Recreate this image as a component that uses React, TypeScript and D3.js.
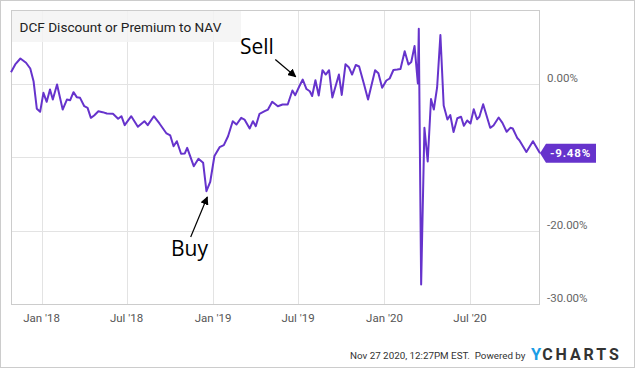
import React from "react";
import * as d3 from "d3";

const W = 635;
const H = 368;

const dates = [
  "2017-10-28","2017-11-06","2017-11-17","2017-11-29","2017-12-08","2017-12-15","2017-12-22","2017-12-29",
  "2018-01-05","2018-01-12","2018-01-19","2018-01-25","2018-02-03","2018-02-15","2018-02-24","2018-03-03",
  "2018-03-10","2018-03-17","2018-03-24","2018-04-02","2018-04-09","2018-04-16","2018-04-23","2018-05-02",
  "2018-05-11","2018-05-20","2018-06-02","2018-06-13","2018-06-20","2018-06-27","2018-07-11","2018-07-25",
  "2018-08-08","2018-08-15","2018-08-28","2018-09-09","2018-09-24","2018-10-02","2018-10-09","2018-10-16",
  "2018-10-25","2018-11-02","2018-11-07","2018-11-21","2018-12-01","2018-12-11","2018-12-18","2018-12-26",
  "2019-01-04","2019-01-15","2019-01-24","2019-02-02","2019-02-12","2019-02-20","2019-03-02","2019-03-09",
  "2019-03-20","2019-03-27","2019-04-02","2019-04-10","2019-04-21","2019-04-28","2019-05-07","2019-05-19",
  "2019-05-29","2019-06-09","2019-06-19","2019-06-25","2019-07-04","2019-07-11","2019-07-19","2019-07-26",
  "2019-07-31","2019-08-07","2019-08-14","2019-08-22","2019-08-29","2019-09-05","2019-09-12","2019-09-26",
  "2019-10-02","2019-10-10","2019-10-17","2019-10-24","2019-11-01","2019-11-08","2019-11-18","2019-11-27",
  "2019-12-12","2019-12-19","2019-12-27","2020-01-05","2020-01-12","2020-01-20","2020-01-28","2020-02-04",
  "2020-02-13","2020-02-21","2020-02-27","2020-03-05","2020-03-12","2020-03-14","2020-03-19","2020-03-26",
  "2020-04-02","2020-04-09","2020-04-15","2020-04-22","2020-04-29","2020-05-06","2020-05-14","2020-05-20",
  "2020-05-27","2020-06-04","2020-06-12","2020-06-18","2020-06-25","2020-07-02","2020-07-09","2020-07-16",
  "2020-07-21","2020-07-29","2020-08-13","2020-08-20","2020-08-31","2020-09-08","2020-09-17","2020-09-25",
  "2020-09-30","2020-10-10","2020-10-14","2020-10-29","2020-11-12","2020-11-27"
];

const values = [
  1.54, 2.59, 3.40, 2.82, 2.04, 0.31, -3.44, -3.85,
  -1.27, -2.49, -0.82, -2.18, -0.14, -3.54, -2.18, -2.27,
  -1.18, -1.86, -1.95, -3.09, -3.31, -4.67, -4.35, -3.77,
  -3.90, -4.08, -4.12, -4.80, -4.45, -5.67, -4.45, -5.89,
  -5.13, -5.67, -4.45, -5.44, -6.80, -7.07, -8.53, -7.85,
  -9.56, -9.52, -8.75, -11.25, -10.24, -10.79, -14.65, -13.40,
  -9.86, -8.67, -8.39, -7.17, -5.13, -5.58, -4.67, -4.90,
  -6.12, -5.13, -5.81, -4.12, -3.77, -3.54, -2.49, -3.09,
  -2.86, -2.86, -0.95, -1.59, -0.34, 0.54, -0.75, -1.05,
  -1.70, 0.45, -1.63, 1.81, 1.22, 1.81, -1.90, 1.22,
  -1.56, 2.63, 2.22, 1.22, 2.52, 2.31, 0.00, -2.18,
  1.81, 1.40, -0.59, 0.41, 0.68, 1.84, 1.90, 1.97,
  4.39, 2.59, 2.93, 5.10, 0.00, 7.44, -27.35, -6.03,
  -10.61, -2.11, -3.54, -0.54, 6.60, -2.99, -4.90, -4.29,
  -6.60, -4.73, -4.53, -5.76, -5.03, -5.44, -3.50, -4.86,
  -4.53, -2.82, -6.03, -5.71, -4.63, -5.35, -6.57, -6.03,
  -6.12, -7.46, -7.71, -9.32, -7.85, -9.48
];

const xTickDates = ["2018-01-01", "2018-07-01", "2019-01-01", "2019-07-01", "2020-01-01", "2020-07-01"];
const xTickLabels = ["Jan '18", "Jul '18", "Jan '19", "Jul '19", "Jan '20", "Jul '20"];
const yTicks = [0, -10, -20, -30];
// the -10.00% label sits under the last-value badge in the reference, so it is not drawn
const yTickLabels = ["0.00%", "", "-20.00%", "-30.00%"];

const title = "DCF Discount or Premium to NAV";
const lastLabel = "-9.48%";
const footerText = "Nov 27 2020, 12:27PM EST.\u00a0 Powered by";

const parse = d3.timeParse("%Y-%m-%d");

export default function App() {
  const data = dates.map((d, i) => ({ date: parse(d) as Date, value: values[i] }));
  const left = 11, right = 540, top = 10, bottom = 304;
  const x = d3.scaleTime()
    .domain(d3.extent(data, (d) => d.date) as [Date, Date])
    .range([left, right]);
  const y = d3.scaleLinear().domain([-30, 10]).range([bottom, top]);
  const line = d3.line<{ date: Date; value: number }>()
    .x((d) => x(d.date))
    .y((d) => y(d.value));
  const purple = "#6633cc";
  const last = data[data.length - 1];
  const ly = y(last.value);
  const lx = x(last.date);

  return (
    <svg width={W} height={H} style={{ position: "absolute", left: 0, top: 0, background: "#fff" }}
      fontFamily="Roboto, 'Noto Sans', sans-serif">
      <defs>
        <marker id="ah" viewBox="0 0 10 10" refX="9" refY="5" markerWidth="7" markerHeight="7" orient="auto-start-reverse">
          <path d="M0,0 L10,5 L0,10 z" fill="#000" />
        </marker>
      </defs>
      <rect x={0.5} y={0.5} width={W - 1} height={H - 1} fill="#fff" stroke="#cccccc" />
      {/* grid */}
      {yTicks.slice(0, 3).map((t) => (
        <line key={"gy" + t} x1={left} x2={right} y1={Math.round(y(t)) + 0.5} y2={Math.round(y(t)) + 0.5} stroke="#e3e3e3" />
      ))}
      {xTickDates.map((d) => {
        const xx = Math.round(x(parse(d) as Date)) + 0.5;
        return <line key={"gx" + d} x1={xx} x2={xx} y1={top} y2={bottom} stroke="#e3e3e3" />;
      })}
      {/* title box */}
      <rect x={left} y={top} width={230} height={32} fill="#f3f3f3" opacity={0.85} />
      <text x={19.5} y={31.5} fontSize={13.6} fill="#222">{title}</text>
      {/* frame */}
      <rect x={left + 0.5} y={top + 0.5} width={right - left - 1} height={bottom - top} fill="none" stroke="#cccccc" />
      {/* line */}
      <path d={line(data) || ""} fill="none" stroke={purple} strokeWidth={2} strokeLinejoin="round" />
      {/* x labels */}
      {xTickDates.map((d, i) => (
        <text key={"xl" + d} x={x(parse(d) as Date)} y={321.5} fontSize={11.5} fill="#555" textAnchor="middle">
          {xTickLabels[i]}
        </text>
      ))}
      {/* y labels */}
      {yTicks.map((t, i) => yTickLabels[i] ? (
        <text key={"yl" + t} x={547} y={y(t) - 2} fontSize={11.5} fill="#666">{yTickLabels[i]}</text>
      ) : null)}
      {/* last value badge */}
      <path d={`M${lx},${ly} L${lx + 6},${ly - 9.5} L${lx + 56},${ly - 9.5} L${lx + 56},${ly + 9.5} L${lx + 6},${ly + 9.5} Z`} fill={purple} />
      <text x={lx + 10} y={ly + 4} fontSize={11.5} fontWeight="bold" fill="#fff" letterSpacing={0.8}>{lastLabel}</text>
      {/* annotations */}
      <text x={240} y={53.5} fontSize={21} fontFamily="'Open Sans', sans-serif" fill="#000">Sell</text>
      <line x1={275.3} y1={59.5} x2={295.7} y2={76.7} stroke="#000" strokeWidth={1.2} markerEnd="url(#ah)" />
      <text x={171} y={256} fontSize={21} fontFamily="'Open Sans', sans-serif" fill="#000">Buy</text>
      <line x1={190.7} y1={237} x2={207.3} y2={197} stroke="#000" strokeWidth={1.2} markerEnd="url(#ah)" />
      {/* footer */}
      <text x={350} y={359} fontSize={9.8} fill="#333">{footerText}</text>
      <text x={531} y={360} fontSize={16} fontWeight="bold">
        <tspan fill="#1a9de6" fontSize={16.5}>Y</tspan>
        <tspan fill="#333" dx={1} letterSpacing={2.9}>CHARTS</tspan>
      </text>
    </svg>
  );
}
